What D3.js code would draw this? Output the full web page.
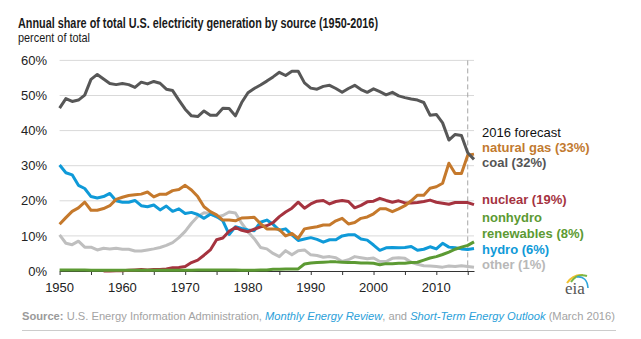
<!DOCTYPE html>
<html>
<head>
<meta charset="utf-8">
<script src="https://cdn.jsdelivr.net/npm/d3@7"></script>
<style>
    body { margin: 0; background: #ffffff; }
    svg { display: block; font-family: 'Liberation Sans', Arial, sans-serif; }
</style>
</head>
<body>
<div id="chart"></div>
<script>

// years 1950 - 2016
var years = d3.range(1950, 2017);

// share of total generation, percent
var coal = [
    46.4, 49.1, 48.3, 48.7, 50.1, 54.6, 56.0, 54.7, 53.4, 53.1,
    53.4, 53.1, 52.3, 53.8, 53.3, 54.0, 53.5, 51.8, 51.4, 48.7,
    46.1, 44.2, 44.0, 45.6, 44.4, 44.4, 46.4, 46.3, 44.2, 48.0,
    50.8, 52.0, 53.0, 54.1, 55.3, 56.6, 55.7, 56.9, 56.9, 53.6,
    52.1, 51.8, 52.6, 52.9, 52.0, 50.9, 52.0, 52.9, 51.7, 50.9,
    51.9, 51.1, 50.2, 50.9, 49.9, 49.4, 49.0, 48.7, 48.0, 44.4,
    44.6, 42.2, 37.3, 38.9, 38.6, 33.7, 31.8
];
var naturalGas = [
    13.3, 15.2, 17.0, 18.0, 19.6, 17.3, 17.3, 17.8, 18.6, 20.4,
    21.0, 21.5, 21.7, 21.9, 22.5, 21.1, 21.9, 21.9, 22.9, 23.2,
    24.4, 23.1, 21.2, 18.3, 16.9, 16.0, 14.5, 14.5, 14.3, 15.1,
    15.2, 15.3, 13.5, 12.0, 12.0, 11.8, 10.0, 10.7, 9.3, 12.0,
    12.3, 12.6, 13.1, 13.1, 14.3, 15.0, 13.4, 13.8, 15.0, 15.4,
    16.3, 17.7, 17.7, 16.9, 17.7, 18.6, 20.0, 21.6, 21.6, 23.6,
    24.0, 25.0, 30.7, 27.8, 27.8, 33.0, 33.3
];
var nuclear = [
    null, null, null, null, null, null, null, 0.0, 0.0, 0.1,
    0.1, 0.2, 0.3, 0.4, 0.3, 0.4, 0.4, 0.6, 0.9, 1.0,
    1.3, 2.4, 3.1, 4.5, 6.0, 8.9, 9.4, 11.3, 12.4, 11.6,
    11.2, 11.9, 12.6, 12.9, 13.8, 15.5, 16.8, 17.9, 19.6, 17.9,
    19.1, 19.9, 20.1, 19.1, 19.8, 20.1, 19.8, 18.0, 18.7, 19.7,
    19.9, 20.7, 20.1, 19.6, 20.0, 19.4, 19.4, 19.5, 19.8, 20.2,
    19.6, 19.3, 19.0, 19.5, 19.5, 19.5, 18.9
];
var nonhydro = [
    0.3, 0.3, 0.3, 0.3, 0.3, 0.2, 0.2, 0.2, 0.2, 0.2,
    0.2, 0.2, 0.2, 0.2, 0.2, 0.2, 0.2, 0.2, 0.2, 0.2,
    0.2, 0.2, 0.3, 0.3, 0.3, 0.3, 0.3, 0.3, 0.3, 0.2,
    0.2, 0.2, 0.3, 0.3, 0.5, 0.5, 0.6, 0.6, 0.6, 2.0,
    2.3, 2.4, 2.5, 2.6, 2.6, 2.5, 2.4, 2.4, 2.3, 2.3,
    2.2, 1.8, 2.1, 2.1, 2.2, 2.2, 2.4, 2.5, 3.1, 3.7,
    4.1, 4.7, 5.4, 6.2, 6.8, 7.3, 8.3
];
var hydro = [
    30.2, 28.0, 27.4, 24.4, 23.5, 21.2, 20.8, 21.2, 22.1, 20.0,
    19.6, 19.6, 20.1, 18.6, 18.3, 18.8, 17.4, 18.5, 17.0, 17.7,
    16.4, 16.7, 16.1, 15.0, 16.2, 15.5, 14.3, 10.4, 12.6, 12.1,
    11.7, 11.5, 13.9, 14.5, 13.3, 11.6, 12.0, 10.3, 8.7, 9.1,
    9.5, 9.0, 8.2, 8.9, 8.9, 10.0, 10.3, 10.3, 9.1, 8.8,
    7.4, 5.9, 6.6, 6.7, 6.6, 6.7, 7.0, 5.9, 6.2, 6.9,
    6.3, 7.9, 6.8, 6.6, 6.3, 6.1, 6.4
];
var other = [
    10.3, 7.9, 7.5, 8.5, 6.8, 6.8, 6.0, 6.5, 6.3, 6.5,
    6.2, 6.2, 5.7, 5.7, 6.0, 6.3, 6.7, 7.3, 8.1, 9.5,
    11.3, 13.6, 15.5, 16.6, 16.4, 15.4, 15.8, 16.8, 16.5, 13.6,
    11.2, 9.2, 6.7, 6.3, 5.0, 4.1, 5.8, 4.6, 5.8, 6.0,
    4.6, 4.4, 3.9, 4.1, 3.8, 2.7, 3.2, 4.1, 3.8, 3.5,
    3.7, 2.7, 2.7, 3.6, 3.8, 3.6, 2.5, 1.9, 1.5, 1.4,
    1.3, 1.1, 1.4, 1.3, 1.5, 1.3, 1.1
];

// end labels (2016 forecast)
var labelLines = [
    ['natural gas (33%)'],
    ['coal (32%)'],
    ['nuclear (19%)'],
    ['nonhydro', 'renewables (8%)'],
    ['hydro (6%)'],
    ['other (1%)']
];

var yTicks = [0, 10, 20, 30, 40, 50, 60];
var xLabelYears = d3.range(1950, 2011, 10);
var xTickYears = d3.range(1950, 2016, 5);
var forecastYear = 2015;

var width = 641,
    height = 339;

var svg = d3.select('#chart').append('svg')
    .attr('width', width)
    .attr('height', height);

var x = d3.scaleLinear().domain([1950, 2016]).range([59.6, 474]);
var y = d3.scaleLinear().domain([0, 60]).range([271, 60.4]);

// title and unit
svg.append('text')
    .attr('x', 18).attr('y', 28)
    .attr('font-size', 14).attr('font-weight', 'bold')
    .attr('fill', '#1a1a1a')
    .attr('textLength', 360).attr('lengthAdjust', 'spacingAndGlyphs')
    .text('Annual share of total U.S. electricity generation by source (1950-2016)');

svg.append('text')
    .attr('x', 18).attr('y', 42)
    .attr('font-size', 13)
    .attr('fill', '#1a1a1a')
    .attr('textLength', 72).attr('lengthAdjust', 'spacingAndGlyphs')
    .text('percent of total');

// gridlines
svg.append('g')
    .selectAll('line')
    .data(yTicks.filter(function(d) { return d > 0; }))
    .enter().append('line')
    .attr('x1', x(1950)).attr('x2', x(2016))
    .attr('y1', function(d) { return y(d); })
    .attr('y2', function(d) { return y(d); })
    .attr('stroke', '#d9d9d9').attr('stroke-width', 1);

// y axis labels
svg.append('g')
    .selectAll('text')
    .data(yTicks)
    .enter().append('text')
    .attr('x', 47)
    .attr('y', function(d) { return y(d) + 4.6; })
    .attr('text-anchor', 'end')
    .attr('font-size', 13).attr('fill', '#222')
    .text(function(d) { return d + '%'; });

// x axis: ticks every 5 years, labels every 10
var xAxis = d3.axisBottom(x)
    .tickValues(xTickYears)
    .tickSize(4)
    .tickSizeOuter(0)
    .tickFormat('');

svg.append('g')
    .attr('transform', 'translate(0,' + y(0) + ')')
    .call(xAxis)
    .call(function(g) {
        g.select('.domain').attr('stroke', '#333');
        g.selectAll('.tick line').attr('stroke', '#333');
    });

svg.append('g')
    .selectAll('text')
    .data(xLabelYears)
    .enter().append('text')
    .attr('x', function(d) { return x(d); })
    .attr('y', 291.5)
    .attr('text-anchor', 'middle')
    .attr('font-size', 13).attr('fill', '#222')
    .text(function(d) { return d; });

// forecast divider
svg.append('line')
    .attr('x1', x(forecastYear)).attr('x2', x(forecastYear))
    .attr('y1', y(60)).attr('y2', y(0))
    .attr('stroke', '#a6a6a6').attr('stroke-width', 1)
    .attr('stroke-dasharray', '5,3');

// series, drawn back to front
var series = [
    { name: 'other', values: other, color: '#bfbfbf' },
    { name: 'hydro', values: hydro, color: '#0f9ad8' },
    { name: 'nuclear', values: nuclear, color: '#a5333f' },
    { name: 'nonhydro', values: nonhydro, color: '#5c9a33' },
    { name: 'naturalGas', values: naturalGas, color: '#c5792c' },
    { name: 'coal', values: coal, color: '#575757' }
];

var line = d3.line()
    .defined(function(d) { return d != null; })
    .x(function(d, i) { return x(years[i]); })
    .y(function(d) { return y(d); });

svg.append('g')
    .selectAll('path')
    .data(series)
    .enter().append('path')
    .attr('d', function(d) { return line(d.values); })
    .attr('fill', 'none')
    .attr('stroke', function(d) { return d.color; })
    .attr('stroke-width', 3)
    .attr('stroke-linejoin', 'round');

// labels on the right
var labelX = 482;
var labelColors = ['#c27a30', '#555555', '#a5333f', '#5c9a33', '#0f9ad8', '#b8b8b8'];
var labelY = [151.7, 166.9, 204, 222.3, 254, 269.2];

svg.append('text')
    .attr('x', labelX).attr('y', 136.7)
    .attr('font-size', 13).attr('fill', '#111')
    .text('2016 forecast');

labelLines.forEach(function(lines, i) {
    var t = svg.append('text')
        .attr('x', labelX).attr('y', labelY[i])
        .attr('font-size', 13).attr('font-weight', 'bold')
        .attr('fill', labelColors[i]);
    lines.forEach(function(s, j) {
        t.append('tspan')
            .attr('x', labelX)
            .attr('dy', j == 0 ? 0 : 16)
            .text(s);
    });
});

// eia logo
var logo = svg.append('g').attr('transform', 'translate(565,283)');
logo.append('path')
    .attr('d', 'M2,0 Q8,-9 18,-8')
    .attr('fill', 'none').attr('stroke', '#f2c12e').attr('stroke-width', 2);
logo.append('path')
    .attr('d', 'M6,-1 Q12,-10 22,-7')
    .attr('fill', 'none').attr('stroke', '#7ab648').attr('stroke-width', 2);
logo.append('path')
    .attr('d', 'M12,-6 Q22,-7 23,5')
    .attr('fill', 'none').attr('stroke', '#2fa4dc').attr('stroke-width', 1.6);
logo.append('text')
    .attr('x', 0).attr('y', 11)
    .attr('font-family', "'Liberation Serif', 'DejaVu Serif', serif")
    .attr('font-size', 17).attr('fill', '#555')
    .text('eia');

// source line
var src = svg.append('text')
    .attr('x', 22).attr('y', 320)
    .attr('font-size', 11).attr('fill', '#a3a3a3')
    .attr('textLength', 593).attr('lengthAdjust', 'spacingAndGlyphs');
src.append('tspan').attr('font-weight', 'bold').attr('fill', '#9a9a9a').text('Source:');
src.append('tspan').text(' U.S. Energy Information Administration, ');
src.append('tspan').attr('font-style', 'italic').attr('fill', '#2aa0d9').text('Monthly Energy Review');
src.append('tspan').text(', and ');
src.append('tspan').attr('font-style', 'italic').attr('fill', '#2aa0d9').text('Short-Term Energy Outlook');
src.append('tspan').text(' (March 2016)');

svg.append('line')
    .attr('x1', 22).attr('x2', 616)
    .attr('y1', 330.5).attr('y2', 330.5)
    .attr('stroke', '#cccccc').attr('stroke-width', 1);

</script>
</body>
</html>
